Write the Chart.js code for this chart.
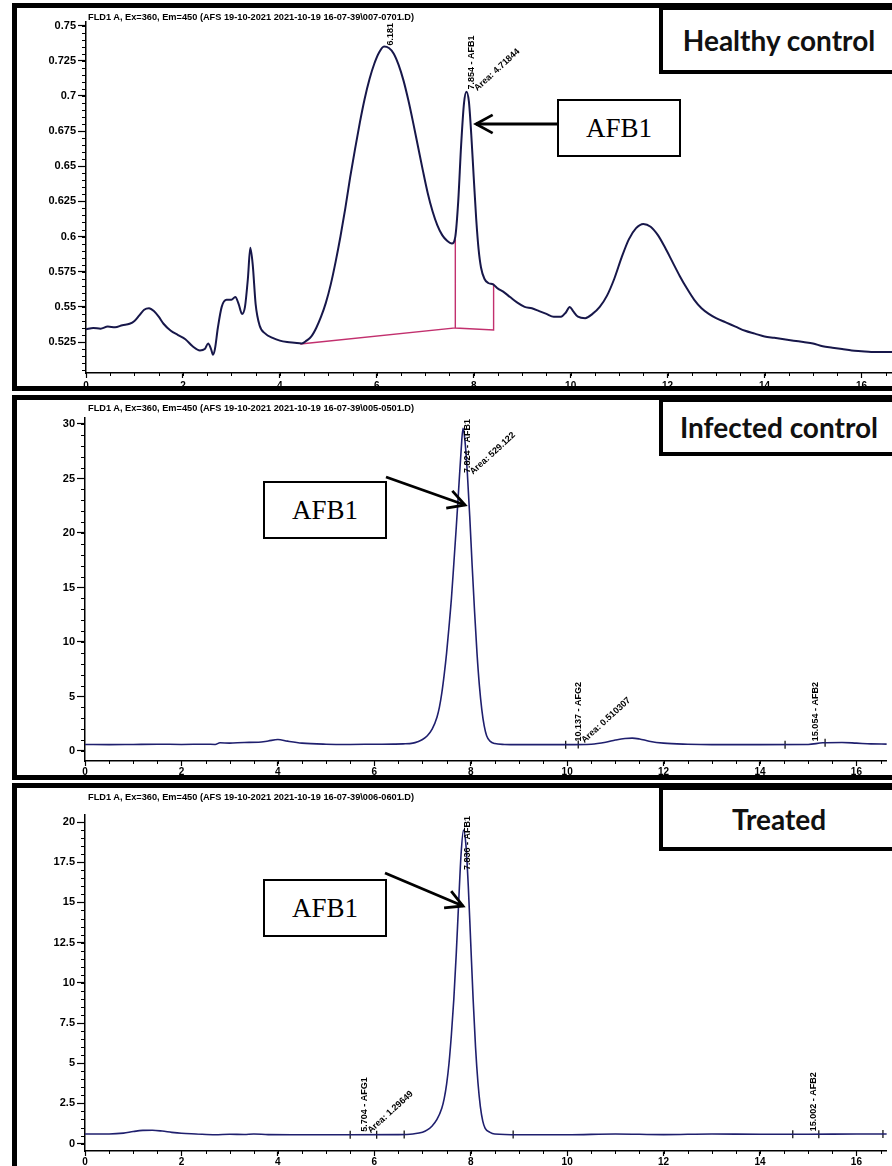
<!DOCTYPE html>
<html><head><meta charset="utf-8">
<script src="https://cdn.jsdelivr.net/npm/chart.js@4.4.1/dist/chart.umd.min.js"></script>
<style>
html,body{margin:0;padding:0;background:#fff}
body{width:892px;height:1166px;position:relative;overflow:hidden;font-family:"Liberation Sans",Arial,sans-serif}
canvas{position:absolute;left:0}
.frame{position:absolute;left:12px;width:900px;border:5px solid #000;box-sizing:border-box;pointer-events:none;z-index:2}
.title{position:absolute;left:88px;font-weight:bold;font-size:9px;white-space:nowrap;z-index:3;line-height:10px}
.tag{position:absolute;left:659px;width:240px;border:4px solid #000;background:#fff;box-sizing:border-box;font:700 28px Lato,"Open Sans",sans-serif;display:flex;align-items:center;justify-content:center;z-index:4;color:#111}
.afb{position:absolute;width:124px;height:58px;border:2px solid #000;background:#fff;box-sizing:border-box;font:27px "Liberation Serif","Times New Roman",serif;display:flex;align-items:center;justify-content:center;z-index:4}
svg{position:absolute;left:0;top:0;z-index:5}
</style>
</head><body>
<canvas id="c1"></canvas>
<canvas id="c2"></canvas>
<canvas id="c3"></canvas>

<div class="frame" style="top:3px;height:388px"></div>
<div class="frame" style="top:395px;height:385px"></div>
<div class="frame" style="top:783px;height:400px"></div>

<div class="title" id="t1" style="top:12px"></div>
<div class="title" id="t2" style="top:403px"></div>
<div class="title" id="t3" style="top:792px"></div>

<div class="tag" id="g1" style="top:6px;height:68px"></div>
<div class="tag" id="g2" style="top:398px;height:58px"></div>
<div class="tag" id="g3" style="top:786px;height:65px"></div>

<div class="afb" style="left:557px;top:99px">AFB1</div>
<div class="afb" style="left:263px;top:481px">AFB1</div>
<div class="afb" style="left:263px;top:879px">AFB1</div>

<svg id="arrows" width="892" height="1166"></svg>

<script>
// ---------------- data ----------------
const panelTitles = [
  "FLD1 A, Ex=360, Em=450 (AFS 19-10-2021 2021-10-19 16-07-39\\007-0701.D)",
  "FLD1 A, Ex=360, Em=450 (AFS 19-10-2021 2021-10-19 16-07-39\\005-0501.D)",
  "FLD1 A, Ex=360, Em=450 (AFS 19-10-2021 2021-10-19 16-07-39\\006-0601.D)"
];
const groupNames = ["Healthy control", "Infected control", "Treated"];

const xTickLabels = [0, 2, 4, 6, 8, 10, 12, 14, 16];

// Healthy control trace (retention time, min / signal)
const healthyX = [0.00,0.15,0.30,0.45,0.60,0.75,0.90,1.00,1.10,1.20,1.30,1.40,1.50,1.60,1.75,1.90,2.05,2.20,2.35,2.45,2.52,2.58,2.62,2.66,2.72,2.80,2.90,3.00,3.08,3.15,3.22,3.28,3.34,3.39,3.44,3.50,3.58,3.70,3.85,4.00,4.15,4.30,4.45,4.55,4.65,4.75,4.85,4.95,5.05,5.15,5.25,5.35,5.45,5.55,5.65,5.75,5.85,5.95,6.05,6.15,6.25,6.35,6.45,6.55,6.65,6.75,6.85,6.95,7.05,7.15,7.25,7.35,7.45,7.55,7.62,7.68,7.74,7.80,7.85,7.90,7.95,8.00,8.05,8.10,8.15,8.22,8.30,8.40,8.50,8.60,8.75,8.90,9.05,9.20,9.35,9.50,9.65,9.80,9.90,9.98,10.05,10.15,10.30,10.45,10.60,10.75,10.90,11.05,11.20,11.35,11.50,11.65,11.80,11.95,12.10,12.25,12.40,12.55,12.70,12.85,13.00,13.20,13.40,13.60,13.80,14.00,14.20,14.40,14.60,14.80,15.00,15.20,15.40,15.60,15.80,16.00,16.20,16.40,16.63];
const healthyY = [0.534,0.535,0.5345,0.536,0.5355,0.537,0.538,0.540,0.544,0.548,0.549,0.547,0.543,0.538,0.533,0.530,0.527,0.522,0.519,0.520,0.524,0.520,0.516,0.520,0.535,0.550,0.555,0.555,0.557,0.552,0.545,0.550,0.570,0.592,0.580,0.552,0.537,0.531,0.528,0.526,0.525,0.5245,0.524,0.526,0.529,0.535,0.543,0.553,0.566,0.582,0.600,0.620,0.642,0.662,0.681,0.698,0.712,0.723,0.731,0.735,0.734,0.730,0.722,0.711,0.697,0.681,0.664,0.647,0.631,0.618,0.608,0.601,0.597,0.595,0.600,0.625,0.665,0.695,0.703,0.696,0.672,0.642,0.613,0.591,0.578,0.570,0.567,0.566,0.563,0.561,0.557,0.553,0.550,0.549,0.547,0.545,0.543,0.543,0.546,0.550,0.547,0.543,0.542,0.545,0.550,0.558,0.570,0.585,0.598,0.606,0.609,0.607,0.601,0.592,0.582,0.572,0.563,0.555,0.549,0.545,0.542,0.539,0.536,0.533,0.531,0.529,0.528,0.527,0.526,0.525,0.524,0.522,0.521,0.520,0.519,0.5185,0.518,0.518,0.518];
// integration baseline / drop lines (healthy)
const healthyBaseX = [4.42, 7.62, 7.62, 7.62, 8.41, 8.41];
const healthyBaseY = [0.5236, 0.5350, 0.5980, 0.5350, 0.5336, 0.5665];

// Infected control trace
const infectedX = [0.0,0.5,1.0,1.5,2.0,2.5,2.7,2.8,3.0,3.3,3.6,3.8,4.0,4.2,4.5,5.0,5.5,6.0,6.4,6.6,6.8,6.9,7.0,7.1,7.2,7.3,7.35,7.4,7.45,7.5,7.55,7.6,7.65,7.7,7.75,7.8,7.84,7.88,7.93,7.98,8.03,8.08,8.13,8.18,8.23,8.28,8.33,8.40,8.50,8.70,9.0,9.5,10.0,10.5,10.8,11.0,11.2,11.35,11.5,11.7,12.0,12.5,13.0,14.0,15.0,15.3,15.7,16.0,16.3,16.63];
const infectedY = [0.60,0.58,0.60,0.62,0.60,0.62,0.60,0.75,0.72,0.78,0.80,0.92,1.05,0.90,0.72,0.62,0.60,0.62,0.63,0.65,0.72,0.85,1.05,1.4,2.0,3.1,4.0,5.3,7.0,9.0,11.4,14.0,17.2,20.5,24.0,27.5,29.6,28.5,25.5,21.5,17.0,12.8,9.0,6.0,3.8,2.3,1.4,0.9,0.68,0.60,0.58,0.58,0.58,0.62,0.80,1.00,1.15,1.18,1.10,0.90,0.72,0.62,0.58,0.58,0.60,0.75,0.78,0.72,0.65,0.63];
// integration event marks (infected)
const infectedEventX = [9.97, 10.23, 14.52, 15.35];
const infectedEventY = [0.58, 0.59, 0.58, 0.76];

// Treated trace
const treatedX = [0.0,0.5,0.8,1.0,1.2,1.4,1.6,1.8,2.0,2.3,2.7,3.0,3.3,3.5,3.8,4.5,5.5,6.5,6.8,7.0,7.1,7.2,7.3,7.4,7.45,7.5,7.55,7.6,7.65,7.7,7.75,7.8,7.85,7.9,7.95,8.0,8.05,8.1,8.15,8.2,8.25,8.3,8.4,8.5,9.0,10.0,11.0,12.0,13.0,14.0,15.0,16.0,16.63];
const treatedY = [0.60,0.60,0.65,0.75,0.82,0.83,0.78,0.70,0.64,0.60,0.55,0.58,0.57,0.60,0.56,0.55,0.55,0.56,0.60,0.70,0.85,1.1,1.5,2.2,2.8,3.7,5.0,6.8,9.0,11.8,15.0,18.0,19.5,18.6,16.0,12.5,9.0,6.0,3.8,2.3,1.4,0.95,0.70,0.60,0.55,0.55,0.60,0.56,0.60,0.58,0.58,0.60,0.60];
// integration event marks (treated)
const treatedEventX = [5.50, 6.05, 6.62, 8.88, 14.68, 15.22, 16.55];
const treatedEventY = [0.55, 0.55, 0.56, 0.56, 0.58, 0.58, 0.60];

// peak annotations
const healthyPeaks = [
  {rt: 6.181, text: "6.181"},
  {rt: 7.854, text: "7.854 - AFB1", area: "Area: 4.71844"}
];
const infectedPeaks = [
  {rt: 7.824, text: "7.824 - AFB1", area: "Area: 529.122"},
  {rt: 10.137, text: "10.137 - AFG2", area: "Area: 0.510307"},
  {rt: 15.054, text: "15.054 - AFB2"}
];
const treatedPeaks = [
  {rt: 5.704, text: "5.704 - AFG1", area: "Area: 1.29649"},
  {rt: 7.836, text: "7.836 - AFB1"},
  {rt: 15.002, text: "15.002 - AFB2"}
];

// ---------------- helpers ----------------
const toPts = (xs, ys) => xs.map((x, i) => ({x, y: ys[i]}));
function valueAt(pts, x){
  for (let i = 1; i < pts.length; i++){
    if (pts[i].x >= x){
      const a = pts[i-1], b = pts[i];
      return a.y + (b.y - a.y) * (x - a.x) / (b.x - a.x);
    }
  }
  return pts[pts.length-1].y;
}

const minorTicks = {
  id: 'minorTicks',
  afterDraw(chart, args, o){
    const ctx = chart.ctx, xs = chart.scales.x, ys = chart.scales.y;
    ctx.save(); ctx.strokeStyle = '#000'; ctx.lineWidth = 1;
    ctx.beginPath();
    for (let i = Math.ceil(xs.min / o.xStep - 1e-9); i * o.xStep <= xs.max + 1e-9; i++){
      const p = Math.round(xs.getPixelForValue(i * o.xStep)) + 0.5;
      ctx.moveTo(p, ys.bottom); ctx.lineTo(p, ys.bottom + 3);
    }
    for (let i = Math.ceil(ys.min / o.yStep - 1e-9); i * o.yStep <= ys.max + 1e-9; i++){
      const p = Math.round(ys.getPixelForValue(i * o.yStep)) + 0.5;
      ctx.moveTo(xs.left, p); ctx.lineTo(xs.left - 4, p);
    }
    ctx.stroke(); ctx.restore();
  }
};

const peakLabels = {
  id: 'peakLabels',
  afterDatasetsDraw(chart, args, o){
    const ctx = chart.ctx, xs = chart.scales.x, ys = chart.scales.y;
    const pts = chart.data.datasets[0].data;
    ctx.save();
    ctx.fillStyle = '#000';
    ctx.font = 'bold 9px "Liberation Sans", Arial, sans-serif';
    (o.items || []).forEach(it => {
      const px = xs.getPixelForValue(it.rt) + 5;
      let py = ys.getPixelForValue(valueAt(pts, it.rt)) - 3;
      const w = ctx.measureText(it.text).width;
      py = Math.max(py, chart.chartArea.top + w + 1);
      ctx.save(); ctx.translate(px, py); ctx.rotate(-Math.PI / 2);
      ctx.textBaseline = 'middle'; ctx.textAlign = 'left';
      ctx.fillText(it.text, 0, 0); ctx.restore();
      if (it.area){
        ctx.save(); ctx.translate(px + 4, py); ctx.rotate(-0.74);
        ctx.textBaseline = 'middle'; ctx.textAlign = 'left';
        ctx.fillText(it.area, 0, 0); ctx.restore();
      }
    });
    ctx.restore();
  }
};

function makeChart(id, canvasTop, h, cfg){
  const cv = document.getElementById(id);
  cv.width = 892; cv.height = h;
  cv.style.top = canvasTop + 'px';
  cv.style.width = '892px'; cv.style.height = h + 'px';
  const datasets = [{
    data: cfg.points, showLine: true, pointRadius: 0, borderColor: cfg.lineColor,
    borderWidth: cfg.lineWidth, cubicInterpolationMode: 'monotone', fill: false
  }];
  (cfg.extra || []).forEach(e => datasets.push(e));
  return new Chart(cv, {
    type: 'scatter',
    data: {datasets},
    options: {
      responsive: false, animation: false, devicePixelRatio: 1,
      layout: {padding: {top: cfg.top, right: 0, left: 0, bottom: 0}},
      plugins: {legend: {display: false}, tooltip: {enabled: false},
        minorTicks: {xStep: 0.5, yStep: cfg.yMinor},
        peakLabels: {items: cfg.peaks}},
      scales: {
        x: {type: 'linear', min: 0, max: 16.63,
          afterFit: s => { s.height = cfg.xAxisH; },
          border: {display: true, color: '#000', width: 1.5},
          grid: {drawOnChartArea: false, drawTicks: true, tickLength: 5, tickColor: '#000', tickWidth: 1.2},
          ticks: {stepSize: 2, includeBounds: false, autoSkip: false, maxRotation: 0, padding: cfg.xPad,
            color: '#000', font: {family: '"Liberation Sans", Arial, sans-serif', size: 10, weight: 'bold'},
            callback: v => xTickLabels.includes(v) ? String(v) : ''}
        },
        y: {type: 'linear', min: cfg.yMin, max: cfg.yMax,
          afterFit: s => { s.width = cfg.yAxisW; },
          border: {display: true, color: '#000', width: 1.5},
          grid: {drawOnChartArea: false, drawTicks: true, tickLength: 8, tickColor: '#000', tickWidth: 1.2},
          ticks: {stepSize: cfg.yStep, includeBounds: false, autoSkip: false, padding: 2,
            color: '#000', font: {family: '"Liberation Sans", Arial, sans-serif', size: cfg.yFont, weight: 'bold'},
            callback: v => cfg.yLabels.includes(+v.toFixed(4)) ? String(+v.toFixed(4)) : ''}
        }
      }
    },
    plugins: [minorTicks, peakLabels]
  });
}

const eventSet = pts => ({data: pts, showLine: false, pointStyle: 'line', rotation: 90,
  pointRadius: 4, pointBorderColor: '#000', pointBorderWidth: 1.2});

const healthyYLabels = [0.525,0.55,0.575,0.6,0.625,0.65,0.675,0.7,0.725,0.75];
const infectedYLabels = [0,5,10,15,20,25,30];
const treatedYLabels = [0,2.5,5,7.5,10,12.5,15,17.5,20];

makeChart('c1', 0, 391, {
  points: toPts(healthyX, healthyY), lineColor: '#17174a', lineWidth: 2,
  extra: [{data: toPts(healthyBaseX, healthyBaseY), showLine: true, pointRadius: 0, borderColor: '#c2306e', borderWidth: 1.4, tension: 0}],
  top: 22, xAxisH: 18, xPad: 2, yAxisW: 86, yMin: 0.503, yMax: 0.7525, yStep: 0.025, yMinor: 0.005, yFont: 11,
  yLabels: healthyYLabels, peaks: healthyPeaks
});
makeChart('c2', 395, 385, {
  points: toPts(infectedX, infectedY), lineColor: '#1f1f6e', lineWidth: 1.6,
  extra: [eventSet(toPts(infectedEventX, infectedEventY))],
  top: 23, xAxisH: 19, xPad: 0, yAxisW: 85, yMin: -0.92, yMax: 30.55, yStep: 5, yMinor: 1, yFont: 11,
  yLabels: infectedYLabels, peaks: infectedPeaks
});
makeChart('c3', 783, 383, {
  points: toPts(treatedX, treatedY), lineColor: '#1f1f6e', lineWidth: 1.6,
  extra: [eventSet(toPts(treatedEventX, treatedEventY))],
  top: 32, xAxisH: 15, xPad: 0, yAxisW: 85, yMin: -0.46, yMax: 20.44, yStep: 2.5, yMinor: 0.5, yFont: 11,
  yLabels: treatedYLabels, peaks: treatedPeaks
});

// titles and tags
['t1','t2','t3'].forEach((id, i) => {
  const el = document.getElementById(id);
  el.textContent = panelTitles[i];
  const w = el.getBoundingClientRect().width;
  el.style.fontSize = (9 * 326 / w).toFixed(2) + 'px';
});
['g1','g2','g3'].forEach((id, i) => { document.getElementById(id).textContent = groupNames[i]; });

// arrows
const arrows = [[557,124,476,124],[386,477,465,505],[385,873,463,906]];
const svg = document.getElementById('arrows');
let s = '';
arrows.forEach(([x1,y1,x2,y2]) => {
  const a = Math.atan2(y2 - y1, x2 - x1), L = 19, sp = 0.5;
  const h1 = [x2 - L*Math.cos(a - sp), y2 - L*Math.sin(a - sp)];
  const h2 = [x2 - L*Math.cos(a + sp), y2 - L*Math.sin(a + sp)];
  s += `<line x1="${x1}" y1="${y1}" x2="${x2}" y2="${y2}" stroke="#000" stroke-width="2.8"/>`;
  s += `<polyline points="${h1.join(',')} ${x2},${y2} ${h2.join(',')}" fill="none" stroke="#000" stroke-width="2.8"/>`;
});
svg.innerHTML = s;
</script>
</body></html>
